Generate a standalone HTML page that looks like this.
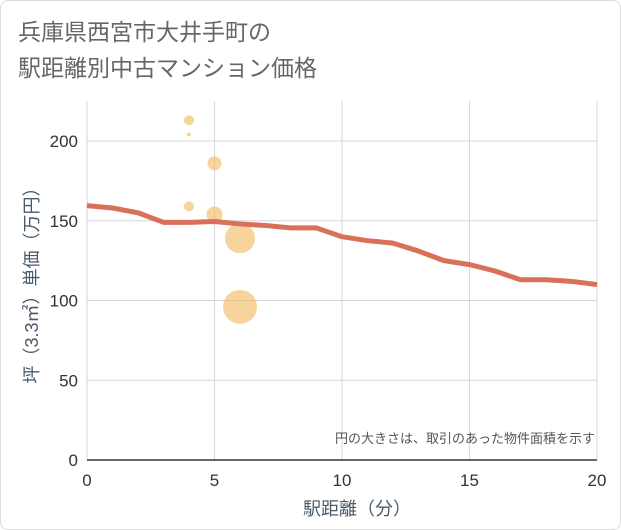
<!DOCTYPE html>
<html><head><meta charset="utf-8"><style>
body{margin:0;background:#fff;}
#card{position:absolute;left:0;top:0;width:619px;height:528px;border:1px solid #ddd;border-radius:8px;background:#fff;}
svg text{font-family:"Liberation Sans","Noto Sans CJK JP",sans-serif;}
</style></head><body>
<div id="card"></div>
<svg id="chart" width="621" height="530" style="position:absolute;left:0;top:0">
<text x="18" y="40" font-size="23" fill="#666">兵庫県西宮市大井手町の</text>
<text x="18" y="76" font-size="23" fill="#666">駅距離別中古マンション価格</text>
<g id="grid"></g><g id="bubbles"></g><g id="line"></g><g id="axes"></g>
<text x="357" y="515" font-size="18" fill="#4a5a6a" text-anchor="middle">駅距離（分）</text>
<text transform="translate(38,281) rotate(-90)" font-size="18" fill="#4a5a6a" text-anchor="middle">坪（3.3㎡）単価（万円）</text>
<text x="595" y="443" font-size="13" fill="#555" text-anchor="end">円の大きさは、取引のあった物件面積を示す</text>
</svg>
<script>
const xTicks=[0,5,10,15,20];
const yTicks=[0,50,100,150,200];
const lineX=[0,1,2,3,4,5,6,7,8,9,10,11,12,13,14,15,16,17,18,19,20];
const lineY=[159.5,158,155,149,149,149.5,148,147,145.5,145.5,140,137.5,136,131,125,122.5,118.5,113,113,112,110];
const bubbleX=[4,4,5,4,5,6,6];
const bubbleY=[213,204,186,159,154,139,96];
const bubbleR=[5,2,7,5,8,15,17];
const NS="http://www.w3.org/2000/svg";
const X0=87,X1=597,Y0=460,YT=101;
const sx=v=>X0+(X1-X0)*v/20;
const sy=v=>Y0-(Y0-141)*v/200;
function mk(tag,attrs,parent){const e=document.createElementNS(NS,tag);for(const k in attrs)e.setAttribute(k,attrs[k]);document.getElementById(parent).appendChild(e);return e;}
xTicks.forEach(t=>{
 const g=mk('line',{x1:sx(t),x2:sx(t),y1:YT,y2:Y0,stroke:'#d3d8de','stroke-width':1},'grid');
 
 
 const l=mk('text',{x:sx(t),y:486,'font-size':17,fill:'#333','text-anchor':'middle'},'axes');l.textContent=t;
 
 
});
yTicks.forEach(t=>{
 const g=mk('line',{x1:X0,x2:X1,y1:sy(t),y2:sy(t),stroke:'#d3d8de','stroke-width':1},'grid');
 
 
 const l=mk('text',{x:78,y:sy(t)+6,'font-size':17,fill:'#333','text-anchor':'end'},'axes');l.textContent=t;
 
 
});
const ax=mk('line',{x1:X0,x2:X1,y1:Y0,y2:Y0,stroke:'#333','stroke-width':1.5},'axes');


bubbleX.forEach((v,i)=>{
 const c=mk('circle',{cx:sx(v),cy:sy(bubbleY[i]),r:bubbleR[i],fill:'#f2b75a','fill-opacity':0.6},'bubbles');
 
 
});
const pts=lineX.map((v,i)=>sx(v)+','+sy(lineY[i])).join(' ');
const pl=mk('polyline',{points:pts,fill:'none',stroke:'#d9705a','stroke-width':5,'stroke-linejoin':'round'},'line');


</script>
</body></html>
